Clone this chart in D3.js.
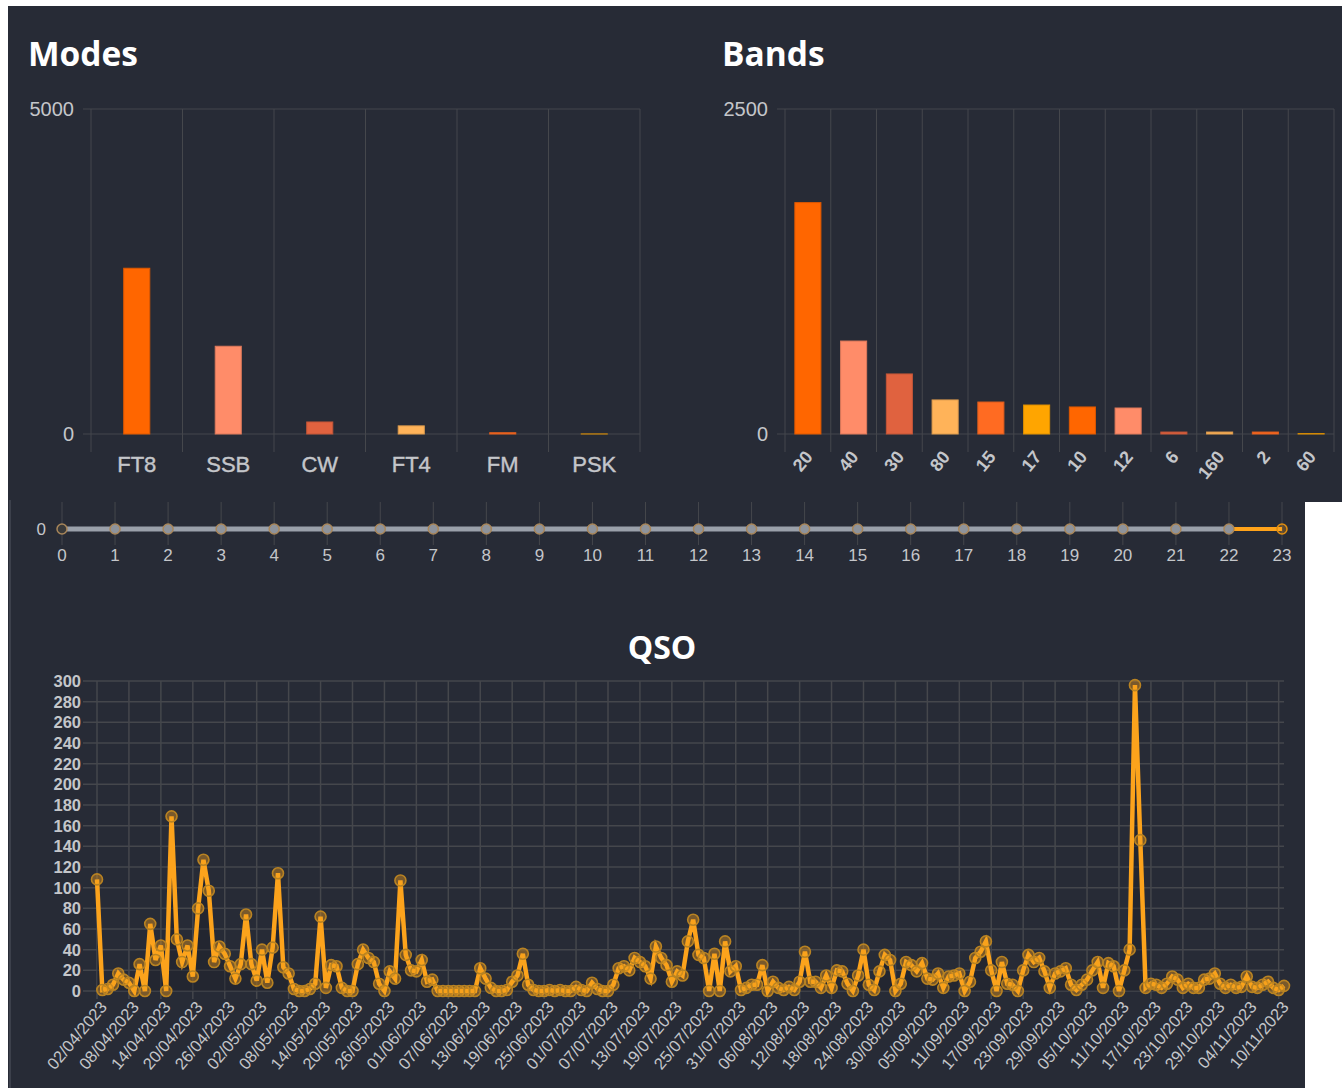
<!DOCTYPE html>
<html><head><meta charset="utf-8">
<script src="https://cdn.jsdelivr.net/npm/d3@7"></script>
<style>
body{margin:0;background:#fff;}
svg{display:block;}
</style></head><body>
<svg id="c" width="1342" height="1088"></svg>
<script>
// ---------- DATA ----------
const modeLabels = ["FT8", "SSB", "CW", "FT4", "FM", "PSK"];
const modeCounts = [2550, 1350, 185, 125, 20, 1];

const bandLabels = ["20", "40", "30", "80", "15", "17", "10", "12", "6", "160", "2", "60"];
const bandCounts = [1780, 715, 462, 262, 246, 223, 208, 200, 15, 15, 15, 3];

const barColors = ["#ff6600", "#ff8c69", "#e0623f", "#ffb359", "#ff6b22", "#ffa500"];

const hourLabels = [0,1,2,3,4,5,6,7,8,9,10,11,12,13,14,15,16,17,18,19,20,21,22,23];
const hourCountsA = [0,0,0,0,0,0,0,0,0,0,0,0,0,0,0,0,0,0,0,0,0,0,0,0];
const hourCountsB = [0,0,0,0,0,0,0,0,0,0,0,0,0,0,0,0,0,0,0,0,0,0,0,null];

const qsoStart = "2023-04-02";
const qsoCounts = [
  108, 1, 2, 6, 17, 11, 8, 0, 26, 0,
  65, 30, 44, 0, 169, 50, 28, 44, 14, 80,
  127, 97, 28, 43, 36, 24, 12, 26, 74, 26,
  10, 40, 8, 42, 114, 23, 17, 2, 0, 0,
  2, 7, 72, 3, 25, 24, 3, 0, 0, 26,
  40, 32, 28, 7, 0, 19, 12, 107, 35, 20,
  19, 30, 9, 11, 0, 0, 0, 0, 0, 0,
  0, 0, 22, 12, 3, 0, 0, 1, 9, 15,
  36, 6, 1, 0, 0, 1, 0, 1, 0, 0,
  4, 1, 0, 8, 2, 0, 0, 6, 22, 24,
  20, 32, 28, 24, 12, 43, 32, 25, 9, 19,
  15, 48, 69, 35, 32, 0, 36, 0, 48, 19,
  24, 1, 3, 6, 6, 25, 0, 9, 3, 1,
  4, 1, 9, 38, 9, 9, 3, 15, 3, 20,
  19, 7, 0, 15, 40, 6, 1, 19, 35, 30,
  0, 7, 28, 25, 19, 27, 12, 11, 17, 3,
  14, 15, 17, 0, 9, 32, 38, 48, 20, 0,
  28, 7, 6, 0, 20, 35, 28, 32, 19, 3,
  17, 19, 22, 6, 1, 6, 11, 20, 28, 3,
  27, 24, 0, 20, 40, 296, 146, 3, 7, 6,
  3, 7, 14, 11, 3, 7, 3, 3, 11, 12,
  17, 7, 3, 6, 3, 4, 14, 4, 3, 6,
  9, 3, 1, 5
];
const qsoYTicks = [0,20,40,60,80,100,120,140,160,180,200,220,240,260,280,300];
const qsoTickEvery = 6;

// ---------- STYLE ----------
const BG = "#272b36";
const GRID = "#45474c";
const TXT = "#c4c6ca";
const FONT = "'Liberation Sans', Arial, sans-serif";
const TFONT = "'Open Sans', sans-serif";

const svg = d3.select("#c");

// panels
svg.append("rect").attr("x", 8).attr("y", 6).attr("width", 1334).attr("height", 496).attr("fill", BG);
svg.append("rect").attr("x", 8).attr("y", 498).attr("width", 1297).attr("height", 590).attr("fill", BG);
svg.append("line").attr("x1", 10).attr("x2", 10).attr("y1", 500).attr("y2", 1088)
  .attr("stroke", "#3c404b").attr("stroke-width", 2);

// ---------- BAR CHART helper ----------
function barChart(cfg) {
  const g = svg.append("g");
  const x = d3.scaleBand().domain(cfg.labels).range([cfg.x0, cfg.x1]);
  const y = d3.scaleLinear().domain([0, cfg.max]).range([cfg.yBottom, cfg.yTop]);
  const bw = x.bandwidth() * cfg.barFrac;

  svg.append("text").attr("x", cfg.titleX).attr("y", 66).text(cfg.title)
    .attr("fill", "#ffffff").attr("font-family", TFONT)
    .attr("font-weight", 700).attr("font-size", 33.5);

  const bounds = cfg.labels.map(d => x(d)).concat([cfg.x1]);
  g.selectAll(".vg").data(bounds).join("line")
    .attr("x1", d => d).attr("x2", d => d)
    .attr("y1", y(cfg.max)).attr("y2", cfg.yBottom + 18)
    .attr("stroke", GRID).attr("stroke-width", 1);
  g.selectAll(".hg").data([0, cfg.max]).join("line")
    .attr("x1", cfg.x0 - 8).attr("x2", cfg.x1)
    .attr("y1", d => y(d)).attr("y2", d => y(d))
    .attr("stroke", GRID).attr("stroke-width", 1);
  g.selectAll(".yl").data([0, cfg.max]).join("text")
    .attr("x", cfg.x0 - 17).attr("y", d => y(d)).attr("dy", "0.35em")
    .attr("text-anchor", "end").attr("fill", TXT)
    .attr("font-family", FONT).attr("font-size", 20).text(d => d);

  g.selectAll(".bar").data(cfg.labels).join("rect")
    .attr("x", d => x(d) + (x.bandwidth() - bw) / 2)
    .attr("width", bw)
    .attr("y", (d, i) => y(cfg.values[i]))
    .attr("height", (d, i) => y(0) - y(cfg.values[i]))
    .attr("fill", (d, i) => barColors[i % barColors.length])
    .attr("stroke", (d, i) => d3.color(barColors[i % barColors.length]).darker(0.4))
    .attr("stroke-width", 1);

  if (cfg.rotate) {
    g.selectAll(".xl").data(cfg.labels).join("text")
      .attr("transform", d => `translate(${x(d) + x.bandwidth() / 2 - 4},${cfg.yBottom + 15}) rotate(-50)`)
      .attr("text-anchor", "end").attr("dy", "0.72em")
      .attr("fill", TXT).attr("font-family", FONT).attr("font-weight", 700)
      .attr("font-size", 18).text(d => d);
  } else {
    g.selectAll(".xl").data(cfg.labels).join("text")
      .attr("x", d => x(d) + x.bandwidth() / 2).attr("y", cfg.yBottom + 30)
      .attr("dy", "0.35em")
      .attr("text-anchor", "middle").attr("fill", TXT).attr("font-family", FONT)
      .attr("font-size", 22).attr("stroke", TXT).attr("stroke-width", 0.4).text(d => d);
  }
}

barChart({ title: "Modes", titleX: 28, labels: modeLabels, values: modeCounts, max: 5000,
  x0: 91, x1: 640, yTop: 109, yBottom: 434, barFrac: 0.285, rotate: false });
barChart({ title: "Bands", titleX: 722, labels: bandLabels, values: bandCounts, max: 2500,
  x0: 785, x1: 1334, yTop: 109, yBottom: 434, barFrac: 0.57, rotate: true });

// ---------- HOURS ----------
(function () {
  const g = svg.append("g");
  const x = d3.scalePoint().domain(hourLabels).range([62, 1282]);
  const y = d3.scaleLinear().domain([0, 1]).range([529, 509]);
  g.selectAll(".vg").data(hourLabels).join("line")
    .attr("x1", d => x(d)).attr("x2", d => x(d)).attr("y1", 502).attr("y2", 545)
    .attr("stroke", GRID);
  g.append("text").attr("x", 46).attr("y", y(0)).attr("dy", "0.35em").attr("text-anchor", "end")
    .attr("fill", TXT).attr("font-family", FONT).attr("font-size", 17).text("0");
  g.selectAll(".xl").data(hourLabels).join("text")
    .attr("x", d => x(d)).attr("y", 555).attr("dy", "0.35em").attr("text-anchor", "middle")
    .attr("fill", TXT).attr("font-family", FONT).attr("font-size", 17).text(d => d);

  const lineA = d3.line().x((d, i) => x(hourLabels[i])).y(d => y(d));
  g.append("path").attr("d", lineA(hourCountsA)).attr("fill", "none")
    .attr("stroke", "#ffa31a").attr("stroke-width", 4);
  const lineB = d3.line().defined(d => d !== null).x((d, i) => x(hourLabels[i])).y(d => y(d));
  g.append("path").attr("d", lineB(hourCountsB)).attr("fill", "none")
    .attr("stroke", "#9aa0aa").attr("stroke-width", 5);
  g.selectAll(".pt").data(hourCountsA).join("circle")
    .attr("cx", (d, i) => x(hourLabels[i])).attr("cy", d => y(d)).attr("r", 5)
    .attr("fill", (d, i) => hourCountsB[i] === null ? "#ffa31a" : (i === 0 ? "#3a3a3a" : "#8e939b"))
    .attr("fill-opacity", (d, i) => hourCountsB[i] === null ? 0.25 : 1)
    .attr("stroke", (d, i) => hourCountsB[i] === null ? "#e08e10" : "#a8865a")
    .attr("stroke-width", 1.5);
})();

// ---------- QSO ----------
(function () {
  const g = svg.append("g");
  const start = new Date(qsoStart + "T00:00:00Z");
  const days = qsoCounts.map((d, i) => d3.utcDay.offset(start, i));
  const x = d3.scaleUtc().domain([days[0], days[days.length - 1]]).range([97, 1284]);
  const y = d3.scaleLinear().domain([0, 300]).range([991, 681]);
  const fmt = d3.utcFormat("%d/%m/%Y");
  const tickDays = days.filter((d, i) => i % qsoTickEvery === 0);

  svg.append("text").attr("x", 662).attr("y", 659).attr("text-anchor", "middle")
    .attr("fill", "#ffffff").attr("font-family", TFONT)
    .attr("font-weight", 700).attr("font-size", 32).text("QSO");

  g.selectAll(".hg").data(qsoYTicks).join("line")
    .attr("x1", 83).attr("x2", 1284).attr("y1", d => y(d)).attr("y2", d => y(d))
    .attr("stroke", GRID).attr("stroke-width", 1.5);
  g.selectAll(".vg").data(tickDays).join("line")
    .attr("x1", d => x(d)).attr("x2", d => x(d)).attr("y1", y(300)).attr("y2", 999)
    .attr("stroke", GRID).attr("stroke-width", 1.5);
  g.selectAll(".yl").data(qsoYTicks).join("text")
    .attr("x", 81).attr("y", d => y(d)).attr("dy", "0.36em").attr("text-anchor", "end")
    .attr("fill", TXT).attr("font-family", FONT).attr("font-weight", 700)
    .attr("font-size", 16.5).text(d => d);
  g.selectAll(".xl").data(tickDays).join("text")
    .attr("transform", d => `translate(${x(d) + 2},${1000}) rotate(-50)`)
    .attr("text-anchor", "end").attr("dy", "0.7em")
    .attr("fill", TXT).attr("font-family", FONT).attr("font-size", 16.5).text(d => fmt(d));

  const area = d3.area().x((d, i) => x(days[i])).y0(y(0)).y1(d => y(d));
  g.append("path").attr("d", area(qsoCounts)).attr("fill", "#1f222b").attr("fill-opacity", 0.45);
  const line = d3.line().x((d, i) => x(days[i])).y(d => y(d));
  g.append("path").attr("d", line(qsoCounts)).attr("fill", "none")
    .attr("stroke", "#fca31c").attr("stroke-width", 4.5).attr("stroke-linejoin", "miter")
    .attr("stroke-miterlimit", 4);
  g.selectAll(".pt").data(qsoCounts).join("circle")
    .attr("cx", (d, i) => x(days[i])).attr("cy", d => y(d)).attr("r", 5.5)
    .attr("fill", "#f5a01c").attr("fill-opacity", 0.4)
    .attr("stroke", "#b98322").attr("stroke-width", 1.6);
})();
</script>
</body></html>
